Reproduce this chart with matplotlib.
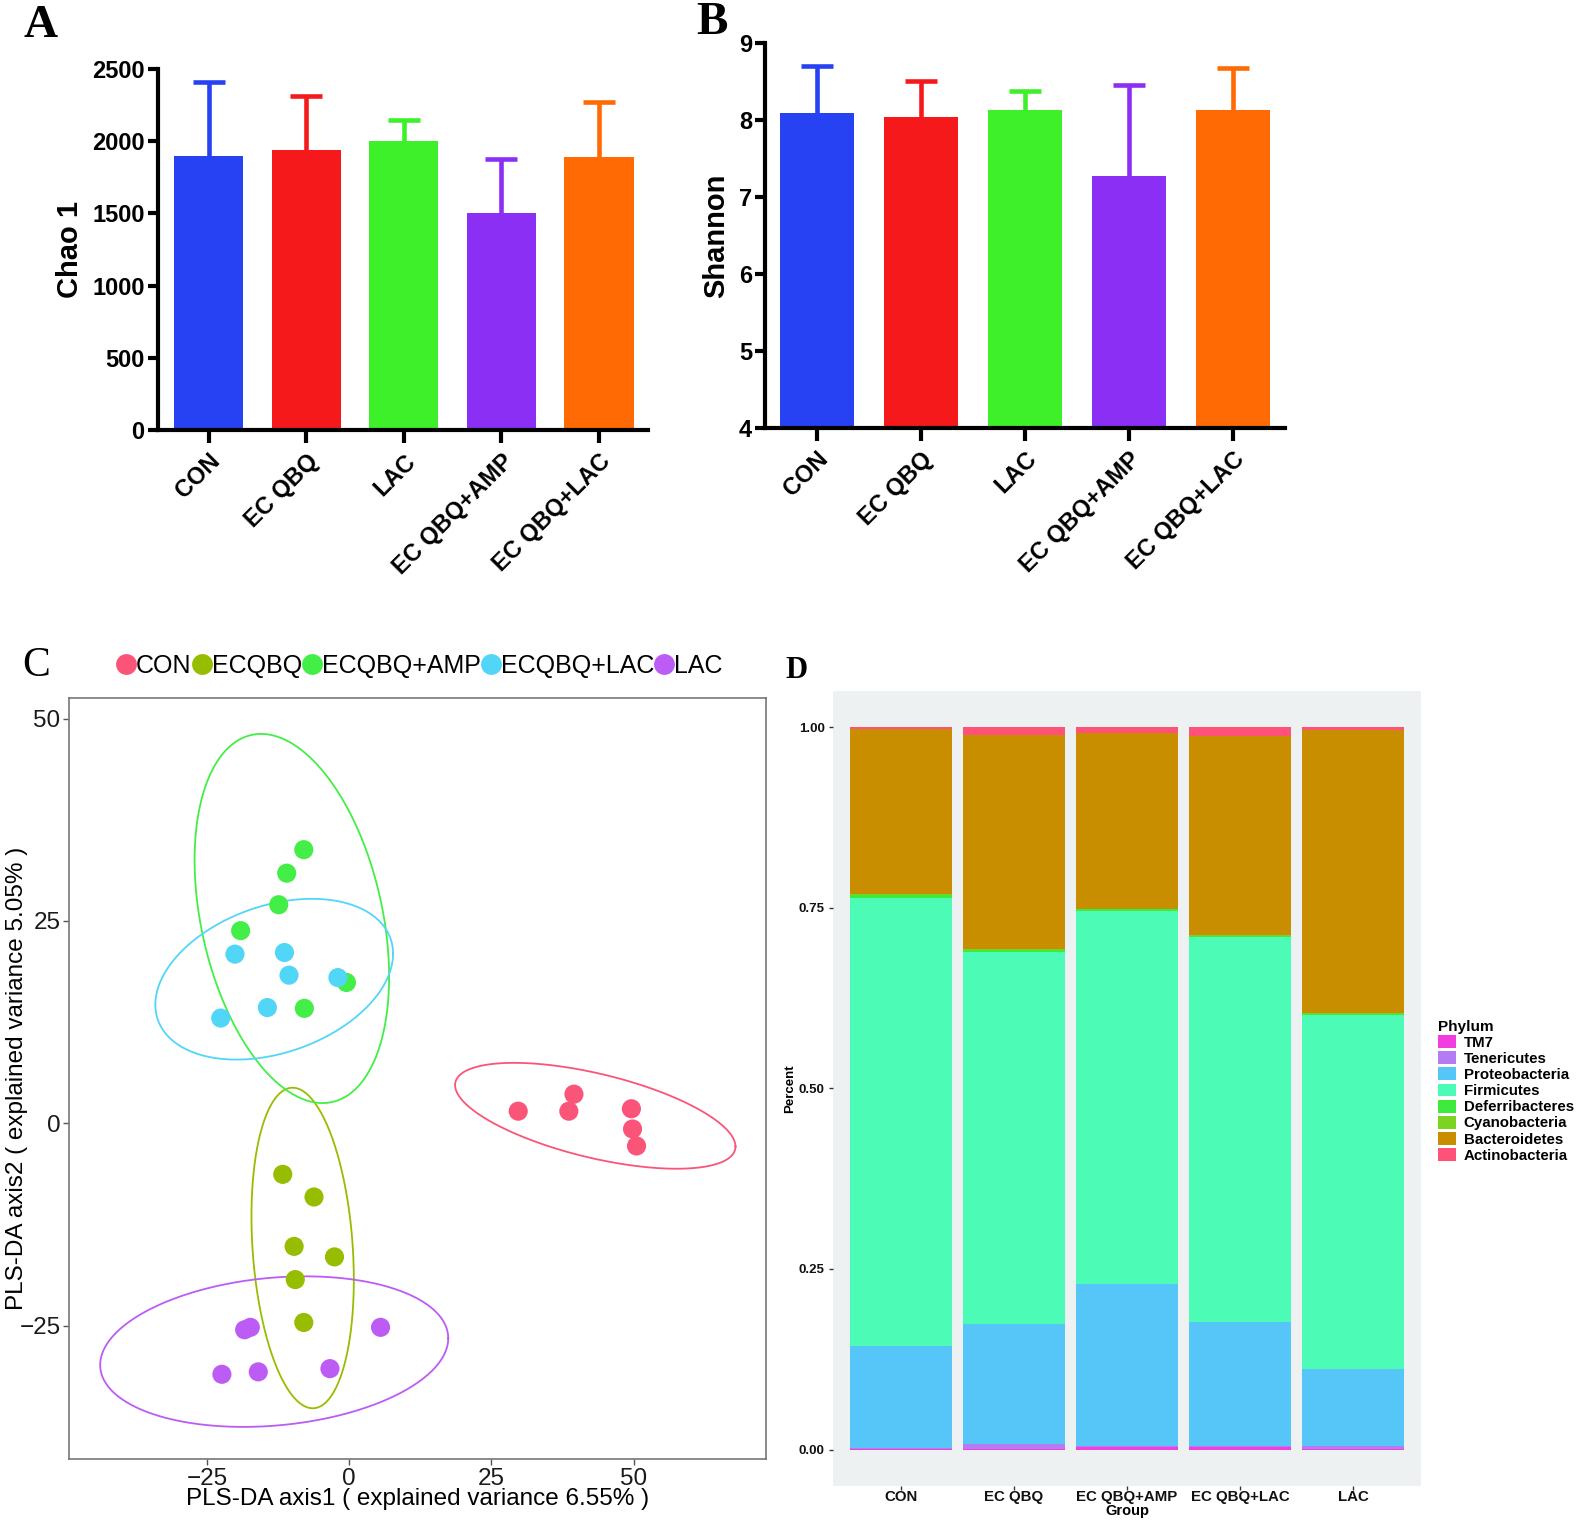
import matplotlib
matplotlib.use("Agg")
import matplotlib.pyplot as plt
import numpy as np
from matplotlib.lines import Line2D
from matplotlib.patches import Patch

plt.rcParams['font.family'] = ['Liberation Sans', 'DejaVu Sans']

# === A / B : alpha diversity ===
groups = ['CON', 'EC QBQ', 'LAC', 'EC QBQ+AMP', 'EC QBQ+LAC']
bar_colors = ['#2642F2', '#F5191C', '#3DF02A', '#8C2FF5', '#FF6A05']
chao1 = [1898, 1940, 2003, 1499, 1891]
chao1_sd = [511, 371, 140, 378, 378]
shannon = [8.10, 8.04, 8.14, 7.28, 8.13]
shannon_sd = [0.60, 0.47, 0.24, 1.18, 0.55]

# === C : PLS-DA scores ===
pls_groups = ['CON', 'ECQBQ', 'ECQBQ+AMP', 'ECQBQ+LAC', 'LAC']
pls_colors = ['#FA5578', '#97BD00', '#43EE46', '#52D6F8', '#BD5CF5']
con_x = [29.7, 38.6, 39.5, 49.6, 49.8, 50.5]
con_y = [1.5, 1.5, 3.6, 1.8, -0.7, -2.8]
ecqbq_x = [-11.7, -6.2, -9.7, -2.6, -9.5, -8.0]
ecqbq_y = [-6.3, -9.1, -15.2, -16.5, -19.3, -24.6]
amp_x = [-8.0, -11.0, -12.4, -19.1, -0.5, -7.9]
amp_y = [33.8, 30.9, 27.0, 23.8, 17.4, 14.2]
ecqbq_lac_x = [-20.1, -11.4, -10.6, -2.0, -14.4, -22.6]
ecqbq_lac_y = [20.9, 21.1, 18.3, 18.0, 14.3, 13.0]
lac_x = [-18.4, -17.4, 5.5, -22.4, -16.0, -3.4]
lac_y = [-25.5, -25.2, -25.2, -31.0, -30.7, -30.3]
# ellipses : centre x, centre y, half width, half height, correlation
ell_cx = [43.25, -8.2, -10.1, -13.2, -13.2]
ell_cy = [0.93, -15.4, 25.3, 17.8, -28.2]
ell_hx = [24.65, 9.0, 17.1, 20.9, 30.6]
ell_hy = [6.54, 19.8, 22.8, 9.93, 9.3]
ell_r = [-0.58, -0.197, -0.316, 0.317, 0.177]

# === D : phylum composition ===
d_groups = ['CON', 'EC QBQ', 'EC QBQ+AMP', 'EC QBQ+LAC', 'LAC']
phyla = ['TM7', 'Tenericutes', 'Proteobacteria', 'Firmicutes',
         'Deferribacteres', 'Cyanobacteria', 'Bacteroidetes', 'Actinobacteria']
phyla_colors = ['#F23DDF', '#B57BF2', '#55C6F7', '#4CFBB6',
                '#3DEB3D', '#7CD320', '#C98E00', '#FF5279']
tm7 = [0.001, 0.001, 0.004, 0.004, 0.001]
tenericutes = [0.001, 0.006, 0.001, 0.001, 0.004]
proteobacteria = [0.141, 0.167, 0.224, 0.172, 0.106]
firmicutes = [0.620, 0.515, 0.516, 0.532, 0.490]
deferribacteres = [0.005, 0.003, 0.003, 0.002, 0.002]
cyanobacteria = [0.001, 0.001, 0.001, 0.001, 0.001]
bacteroidetes = [0.229, 0.296, 0.243, 0.276, 0.392]
actinobacteria = [0.002, 0.011, 0.008, 0.012, 0.004]

fig = plt.figure(figsize=(15.87, 15.22), dpi=100)


def bar_panel(ax, vals, sd, ylim, yticks, ylabel, xlim):
    x = np.arange(len(groups))
    ax.bar(x, vals, width=0.71, color=bar_colors, zorder=2)
    for i in range(len(groups)):
        eb = ax.errorbar(x[i], vals[i], yerr=[[0], [sd[i]]], fmt='none',
                         ecolor=bar_colors[i], elinewidth=3.3, capsize=11.5,
                         capthick=3.3, zorder=1)
        # only the upper cap
        eb[1][0].set_visible(False)
    ax.set_ylim(*ylim)
    ax.set_xlim(*xlim)
    ax.set_yticks(yticks)
    ax.set_xticks(x)
    ax.set_xticklabels(groups, rotation=45, ha='right', va='top',
                       rotation_mode='anchor', fontweight='bold', fontsize=18)
    for lab in ax.get_yticklabels():
        lab.set_fontweight('bold')
    ax.tick_params(axis='both', width=3, length=7.5, labelsize=17, pad=2)
    ax.tick_params(axis='x', length=9, pad=5)
    for s in ['top', 'right']:
        ax.spines[s].set_visible(False)
    for s in ['left', 'bottom']:
        ax.spines[s].set_linewidth(3)
    ax.set_ylabel(ylabel, fontsize=21, fontweight='bold', labelpad=6)


# ---------------------------
# A. Chao 1
# ---------------------------
ax_a = fig.add_axes([0.0995, 0.7174, 0.3087, 0.2374])
bar_panel(ax_a, chao1, chao1_sd, (0, 2500), range(0, 2501, 500), 'Chao 1', (-0.52, 4.5))

# ---------------------------
# B. Shannon
# ---------------------------
ax_b = fig.add_axes([0.4821, 0.7188, 0.3278, 0.2527])
bar_panel(ax_b, shannon, shannon_sd, (4, 9), range(4, 10), 'Shannon', (-0.495, 4.5))

# ---------------------------
# C. PLS-DA
# ---------------------------
ax_c = fig.add_axes([0.0434, 0.0412, 0.4394, 0.5])
all_x = [con_x, ecqbq_x, amp_x, ecqbq_lac_x, lac_x]
all_y = [con_y, ecqbq_y, amp_y, ecqbq_lac_y, lac_y]
t = np.linspace(0, 2 * np.pi, 300)
for i in range(len(pls_groups)):
    cov = np.array([[ell_hx[i] ** 2, ell_r[i] * ell_hx[i] * ell_hy[i]],
                    [ell_r[i] * ell_hx[i] * ell_hy[i], ell_hy[i] ** 2]])
    L = np.linalg.cholesky(cov)
    pts = L @ np.vstack([np.cos(t), np.sin(t)])
    ax_c.plot(ell_cx[i] + pts[0], ell_cy[i] + pts[1], color=pls_colors[i],
              lw=1.3, zorder=1)
for i in range(len(pls_groups)):
    ax_c.scatter(all_x[i], all_y[i], s=190, color=pls_colors[i],
                 edgecolors='none', zorder=3)
ax_c.set_xlim(-49.3, 73.3)
ax_c.set_ylim(-41.5, 52.5)
ax_c.set_xticks([-25, 0, 25, 50])
ax_c.set_yticks([-25, 0, 25, 50])
ax_c.tick_params(axis='both', labelsize=17.5, length=4, width=1,
                 color='#555555', labelcolor='#1a1a1a', pad=2)
for s in ax_c.spines.values():
    s.set_color('#777777')
    s.set_linewidth(1.2)
ax_c.set_xlabel('PLS-DA axis1 ( explained variance 6.55% )', fontsize=17.5, labelpad=-1)
ax_c.set_ylabel('PLS-DA axis2 ( explained variance 5.05% )', fontsize=17.5, labelpad=-6)
handles = [Line2D([0], [0], marker='o', ls='none', markersize=15,
                  markerfacecolor=c, markeredgecolor='none') for c in pls_colors]
fig.legend(handles, pls_groups, loc='center', ncol=5, frameon=False,
           bbox_to_anchor=(0.2643, 0.5625), fontsize=18, handlelength=0.8,
           handletextpad=0.0, columnspacing=0.0, borderpad=0)

# ---------------------------
# D. Phylum composition
# ---------------------------
ax_d = fig.add_axes([0.5249, 0.0239, 0.3705, 0.522])
ax_d.set_facecolor('#EEF1F1')
xd = np.arange(1, len(d_groups) + 1)
stack = [tm7, tenericutes, proteobacteria, firmicutes,
         deferribacteres, cyanobacteria, bacteroidetes, actinobacteria]
bottom = np.zeros(len(d_groups))
for vals, col in zip(stack, phyla_colors):
    ax_d.bar(xd, vals, width=0.9, bottom=bottom, color=col, edgecolor='none')
    bottom += np.array(vals)
ax_d.set_xlim(0.4, 5.6)
ax_d.set_ylim(-0.05, 1.05)
ax_d.set_yticks([0, 0.25, 0.5, 0.75, 1.0])
ax_d.set_yticklabels(['0.00', '0.25', '0.50', '0.75', '1.00'])
ax_d.set_xticks(xd)
ax_d.set_xticklabels(d_groups)
for lab in ax_d.get_yticklabels():
    lab.set_fontweight('bold')
    lab.set_fontsize(9.5)
for lab in ax_d.get_xticklabels():
    lab.set_fontweight('bold')
    lab.set_fontsize(10.8)
ax_d.tick_params(axis='both', length=3, width=1,
                 color='#333333', labelcolor='#111111', pad=3)
ax_d.tick_params(axis='x', pad=0)
for s in ax_d.spines.values():
    s.set_visible(False)
ax_d.set_xlabel('Group', fontsize=10.5, fontweight='bold', labelpad=0.5)
ax_d.set_ylabel('Percent', fontsize=9.5, fontweight='bold', labelpad=2)
d_handles = [Patch(facecolor=c, edgecolor='none') for c in phyla_colors]
leg = fig.legend(d_handles, phyla, loc='upper left', frameon=False,
                 bbox_to_anchor=(0.9015, 0.335), title='Phylum',
                 alignment='left', fontsize=10.8, title_fontsize=11,
                 handlelength=1.2, handleheight=0.95, labelspacing=0.1,
                 handletextpad=0.5, borderpad=0)
for txt in leg.get_texts():
    txt.set_fontweight('bold')
leg.get_title().set_fontweight('bold')

# panel letters
fig.text(0.0255, 0.983, 'A', fontsize=34, fontweight='bold', family='Liberation Serif',
         ha='center', va='center')
fig.text(0.4485, 0.985, 'B', fontsize=34, fontweight='bold', family='Liberation Serif',
         ha='center', va='center')
fig.text(0.023, 0.5625, 'C', fontsize=30, family='Liberation Serif',
         ha='center', va='center')
fig.text(0.502, 0.5595, 'D', fontsize=22, fontweight='bold', family='Liberation Serif',
         ha='center', va='center')

fig.savefig('out.png', dpi=100)
